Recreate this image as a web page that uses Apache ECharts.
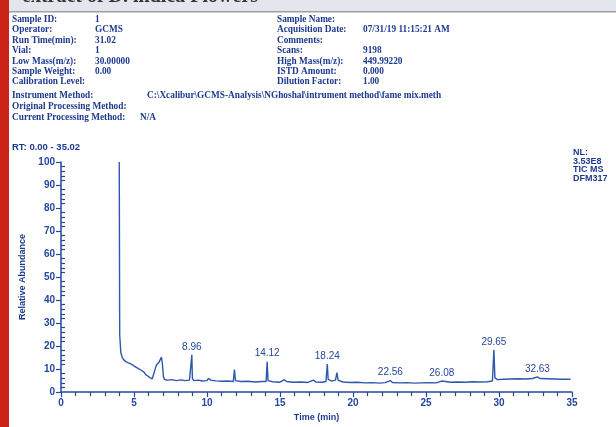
<!DOCTYPE html>
<html>
<head>
<meta charset="utf-8">
<script src="https://cdn.jsdelivr.net/npm/echarts@6/dist/echarts.min.js"></script>
<style>
html, body { margin: 0; padding: 0; background: #fff; }
#chart { width: 616px; height: 427px; }
</style>
</head>
<body>
<div id="chart"></div>
<script>
// トレースデータ [time(min), relative abundance]
var trace = [
    [3.99, 100], [4.00, 100], [4.02, 25], [4.05, 22], [4.1, 17], [4.2, 15], [4.3, 14], [4.5, 13],
    [4.7, 12.5], [4.9, 11.8], [5.1, 11], [5.3, 10.2], [5.5, 9.5], [5.7, 8.6], [5.8, 7.6], [5.95, 7],
    [6.1, 6.2], [6.25, 5.8], [6.35, 6.5], [6.45, 10], [6.55, 12], [6.7, 12.8], [6.8, 13.5], [6.88, 15.2],
    [6.95, 12], [7.02, 6.5], [7.1, 5.5], [7.3, 5.2], [7.6, 5.4], [7.9, 5.0], [8.2, 5.3], [8.5, 5.0],
    [8.8, 5.2], [8.9, 6], [8.96, 16.2], [9.0, 6], [9.1, 5.0], [9.4, 5.2], [9.7, 4.8], [10.0, 5.0],
    [10.1, 6], [10.25, 5.2], [10.6, 4.9], [11.0, 4.7], [11.4, 4.8], [11.8, 4.6], [11.88, 9.8], [11.95, 5],
    [12.3, 4.6], [12.8, 4.7], [13.3, 4.4], [13.8, 4.6], [14.05, 4.6], [14.12, 13.2], [14.18, 5], [14.5, 4.5],
    [15.0, 4.3], [15.3, 5.4], [15.45, 4.6], [15.9, 4.3], [16.4, 4.4], [16.9, 4.2], [17.3, 5.2], [17.45, 4.4],
    [17.9, 4.3], [18.15, 4.6], [18.24, 12.2], [18.3, 5.5], [18.55, 4.8], [18.8, 5.2], [18.9, 8.5], [18.98, 5.2],
    [19.3, 4.4], [19.8, 4.2], [20.3, 4.3], [20.8, 4.0], [21.3, 4.1], [21.8, 3.9], [22.2, 4.1], [22.56, 5.0],
    [22.7, 4.2], [23.2, 4.0], [23.7, 4.1], [24.2, 3.9], [24.7, 4.0], [25.2, 4.1], [25.7, 4.0], [26.08, 4.8],
    [26.2, 4.2], [26.7, 4.3], [27.2, 4.4], [27.7, 4.3], [28.2, 4.5], [28.7, 4.4], [29.2, 4.5], [29.55, 4.8],
    [29.65, 18.4], [29.72, 6.2], [29.9, 5.4], [30.3, 5.6], [30.8, 5.7], [31.3, 5.8], [31.8, 5.7], [32.3, 5.9],
    [32.63, 6.6], [32.8, 5.9], [33.3, 5.8], [33.8, 5.7], [34.3, 5.6], [34.9, 5.6]
];
// ラベル付きピーク
var labeledPeaks = [8.96, 14.12, 18.24, 22.56, 26.08, 29.65, 32.63];

// ヘッダー情報
var leftKeys = ["Sample ID:", "Operator:", "Run Time(min):", "Vial:", "Low Mass(m/z):", "Sample Weight:", "Calibration Level:"];
var leftVals = ["1", "GCMS", "31.02", "1", "30.00000", "0.00", ""];
var rightKeys = ["Sample Name:", "Acquisition Date:", "Comments:", "Scans:", "High Mass(m/z):", "ISTD Amount:", "Dilution Factor:"];
var rightVals = ["", "07/31/19 11:15:21 AM", "", "9198", "449.99220", "0.000", "1.00"];
var methodKeys = ["Instrument Method:", "Original Processing Method:", "Current Processing Method:"];
var methodVals = ["C:\\Xcalibur\\GCMS-Analysis\\NGhoshal\\intrument method\\fame mix.meth", "", "N/A"];
var rowY = [20, 30, 41, 51, 62, 72, 82];
var methodY = [96, 107, 118];
var nlLines = ["NL:", "3.53E8", "TIC MS", "DFM317"];

var blue = '#24479c';
var textBlue = '#1d3a8f';

var seriesData = trace.map(function (p) {
    if (labeledPeaks.indexOf(p[0]) >= 0) {
        return { value: p, label: { show: true } };
    }
    return { value: p };
});

var graphics = [
    { type: 'rect', shape: { x: 0, y: 0, width: 616, height: 11 }, style: { fill: '#e3e7ed' }, z: 1 },
    { type: 'text', x: 22, y: -13, style: { text: 'extract of D. indica Flowers', font: 'bold 20px "Liberation Serif"', fill: '#333' }, z: 2 },
    { type: 'rect', shape: { x: 0, y: 11, width: 616, height: 1.5 }, style: { fill: '#a0a0a0' }, z: 3 },
    { type: 'rect', shape: { x: 0, y: 0, width: 9, height: 427 }, style: { fill: '#cc2319' }, z: 4 }
];

function addText(x, y, t, font) {
    if (!t) return;
    graphics.push({ type: 'text', x: x, y: y, style: { text: t, font: font, fill: textBlue, verticalAlign: 'middle' } });
}
var hdrFont = 'bold 9.3px "Liberation Serif"';
for (var i = 0; i < leftKeys.length; i++) {
    addText(12, rowY[i], leftKeys[i], hdrFont);
    addText(95, rowY[i], leftVals[i], hdrFont);
    addText(277, rowY[i], rightKeys[i], hdrFont);
    addText(363, rowY[i], rightVals[i], hdrFont);
}
for (var j = 0; j < methodKeys.length; j++) {
    addText(12, methodY[j], methodKeys[j], hdrFont);
}
addText(147, methodY[0], methodVals[0], hdrFont);
addText(140, methodY[2], methodVals[2], hdrFont);
addText(12, 147, 'RT: 0.00 - 35.02', 'bold 9.5px "Liberation Sans"');
for (var k = 0; k < nlLines.length; k++) {
    addText(573, 153 + k * 8.5, nlLines[k], 'bold 9px "Liberation Sans"');
}

var chart = echarts.init(document.getElementById('chart'));
chart.setOption({
    animation: false,
    grid: { left: 61, right: 44, top: 162, bottom: 29 },
    graphic: graphics,
    xAxis: {
        type: 'value', min: 0, max: 35, interval: 5,
        name: 'Time (min)', nameLocation: 'middle', nameGap: 19,
        nameTextStyle: { color: textBlue, fontWeight: 'bold', fontSize: 9, fontFamily: 'Liberation Sans' },
        axisLine: { lineStyle: { color: blue, width: 1.5 } },
        axisTick: { show: true, length: 5, lineStyle: { color: blue, width: 1.2 } },
        minorTick: { show: true, splitNumber: 5, length: 4, lineStyle: { color: blue, width: 1.2 } },
        axisLabel: { color: blue, fontWeight: 'bold', fontSize: 10, fontFamily: 'Liberation Sans', margin: 6 },
        splitLine: { show: false }
    },
    yAxis: [{
        type: 'value', min: 0, max: 100, interval: 10,
        name: 'Relative Abundance', nameLocation: 'middle', nameGap: 34,
        nameTextStyle: { color: textBlue, fontWeight: 'bold', fontSize: 9, fontFamily: 'Liberation Sans' },
        axisLine: { show: true, lineStyle: { color: blue, width: 1.5 } },
        axisTick: { show: true, length: 5, lineStyle: { color: blue, width: 1.2 } },
        axisLabel: { color: blue, fontWeight: 'bold', fontSize: 10, fontFamily: 'Liberation Sans', margin: 6 },
        splitLine: { show: false }
    }, {
        type: 'value', min: 0, max: 100, interval: 10, position: 'left',
        axisLine: { show: false },
        axisTick: { show: false, inside: true },
        minorTick: { show: true, splitNumber: 5, length: 4, lineStyle: { color: blue, width: 1.2 } },
        axisLabel: { show: false },
        splitLine: { show: false }
    }],
    series: [{
        type: 'line',
        data: seriesData,
        symbol: 'circle',
        symbolSize: 0,
        showSymbol: true,
        lineStyle: { color: '#2d58ad', width: 1.4 },
        label: {
            show: false, position: 'top', distance: 3,
            color: blue, fontSize: 10, fontFamily: 'Liberation Sans',
            formatter: function (p) { return p.value[0].toFixed(2); }
        }
    }]
});
</script>
</body>
</html>
